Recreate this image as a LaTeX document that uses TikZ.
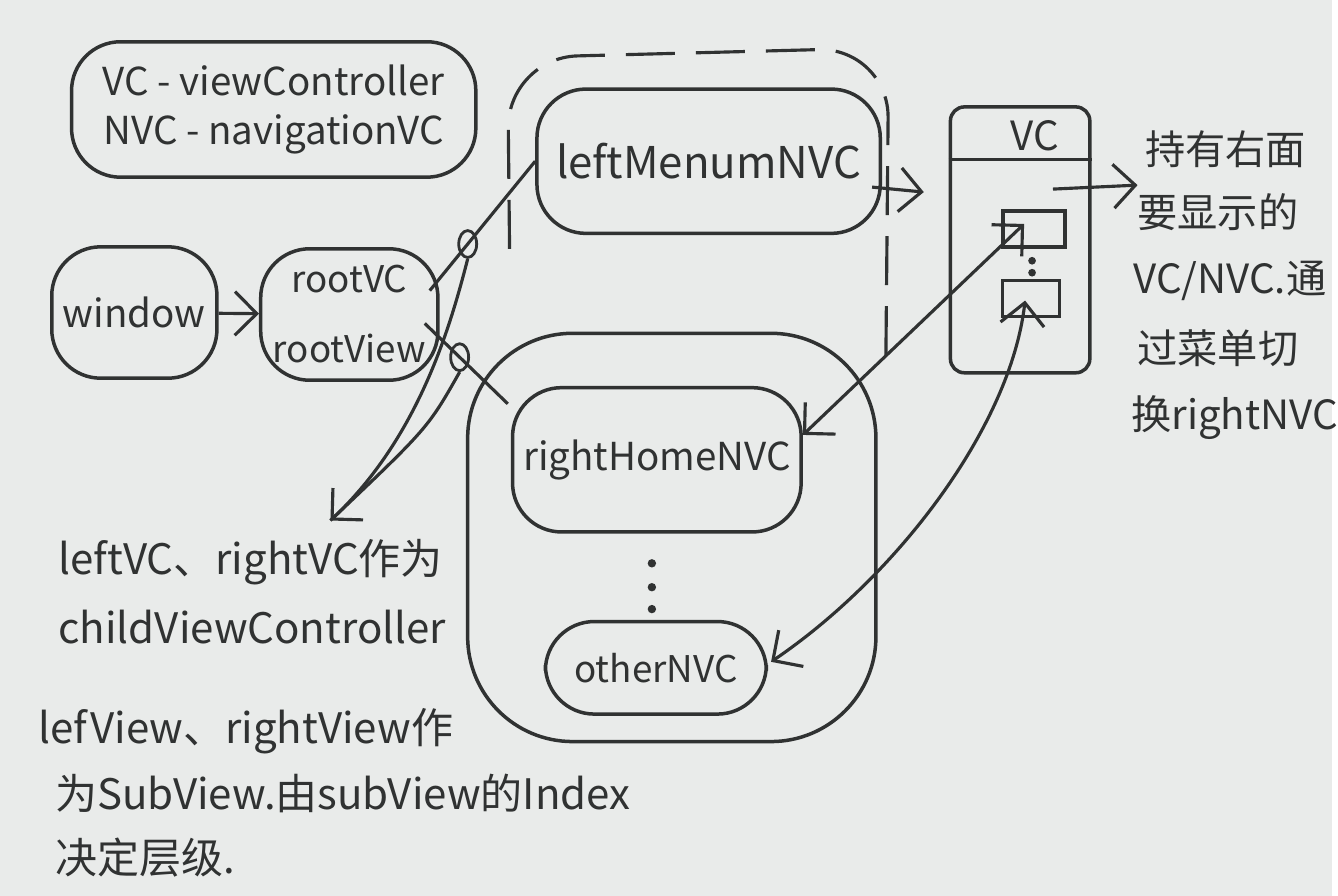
\documentclass[tikz,border=0pt]{standalone}
\usepackage{fontspec}
\setmainfont{Noto Sans CJK SC}
\usetikzlibrary{arrows.meta,shapes.geometric}
\definecolor{paper}{RGB}{233,235,234}
\definecolor{ink}{RGB}{48,50,50}
\begin{document}
\begin{tikzpicture}
[x=0.01cm,y=-0.01cm,
  boxdecorate/.style={draw=ink,text=ink,line width=1pt,rounded corners=14pt,inner sep=2pt},
  slotdecorate/.style={draw=ink,line width=1pt,inner sep=0pt},
  hookdecorate/.style={shape=ellipse,draw=ink,line width=0.8pt,inner sep=0pt,
    minimum width=0.18cm,minimum height=0.27cm},
  textdecorate/.style={text=ink,inner sep=0pt,font=\fontsize{11.5}{14}\selectfont},
  linedecorate/.style={draw=ink,line width=0.9pt},
  arrowdecorate/.style={linedecorate,-{Straight Barb[length=2.2mm,width=4.4mm]}},
  bothdecorate/.style={linedecorate,
    {Straight Barb[length=2.2mm,width=4.4mm]}-{Straight Barb[length=2.2mm,width=4.4mm]}}]
%% paper
\fill[paper] (0,0) rectangle (1338,900);
%% legend
\node (legend) at (275,110) [boxdecorate,minimum width=4.06cm,minimum height=1.36cm,
  align=center,font=\fontsize{11}{14}\selectfont] {VC - viewController\\NVC - navigationVC};
%% controller boxes
\foreach \nodename/\x/\y/\w/\h/\fs/\boxtext in {window/135/314/166/132/11/window,
  leftnvc/712/162/345/145/12.5/leftMenumNVC, righthome/660/462/290/145/11/rightHomeNVC,
  other/659/671/222/93/10.5/otherNVC} {
  \node (\nodename) at (\x,\y) [boxdecorate,minimum width=\w*0.01cm,
    minimum height=\h*0.01cm,font=\fontsize{\fs}{\fs}\selectfont] {\boxtext};
}
\node (rootvc) at (351,316) [boxdecorate,minimum width=1.78cm,minimum height=1.32cm,
  align=center,font=\fontsize{10.5}{20}\selectfont] {rootVC\\rootView};
%% containers
\node (rightbox) at (675,540) [boxdecorate,rounded corners=30pt,minimum width=4.1cm,
  minimum height=4.1cm] {};
\draw[linedecorate,dash pattern=on 14pt off 6pt,rounded corners=20pt]
  (512,250) -- (510,58) -- (893,48) -- (890,372);
%% VC box
\node (vcbox) at (1025,241) [boxdecorate,rounded corners=4pt,minimum width=1.4cm,
  minimum height=2.67cm] {};
\draw[linedecorate] (vcbox.west |- 0,160) -- (vcbox.east |- 0,160);
\node (vclabel) at (1040,136) [textdecorate,font=\fontsize{11.5}{12}\selectfont] {VC};
\node (slotup) at (1039,230) [slotdecorate,minimum width=0.62cm,minimum height=0.36cm] {};
\node (slotdown) at (1036,300) [slotdecorate,minimum width=0.57cm,minimum height=0.36cm] {};
\foreach \y in {262,274} \fill[ink] (1037,\y) circle (1.1pt);
\foreach \y in {566,590,612} \fill[ink] (655,\y) circle (1.2pt);
%% notes
\foreach \i/\x/\y/\notetext in {1/1150/150/持有右面, 2/1142/213/要显示的,
  3/1138/282/{VC/NVC.通}, 4/1142/350/过菜单切, 5/1136/420/换rightNVC} {
  \node (menunote\i) at (\x,\y) [textdecorate,anchor=west] {\notetext};
}
\foreach \i/\x/\y/\notetext in {1/58/565/leftVC、rightVC作为, 2/58/630/childViewController,
  3/38/735/lefView、rightView作, 4/55/797/为SubView.由subView的Index, 5/55/862/决定层级.} {
  \node (layernote\i) at (\x,\y) [textdecorate,anchor=west,font=\fontsize{12}{14}\selectfont] {\notetext};
}
%% connectors
\coordinate (notetip) at (1143,186);
\coordinate (childtip) at (332,523);
\draw[arrowdecorate] (window) -- (rootvc);
\draw[arrowdecorate] ([shift={(-10,26)}]leftnvc.east) -- ([shift={(-25,-48)}]vcbox.west);
\draw[arrowdecorate] ([shift={(33,-51)}]vcbox.center) -- (notetip);
\draw[linedecorate] ([shift={(-10,-24)}]rootvc.east) -- node[pos=0.36,hookdecorate] (hookleft) {}
  (leftnvc.west);
\draw[linedecorate] ([shift={(-15,9)}]rootvc.east) -- node[pos=0.42,hookdecorate] (hookright) {}
  ([shift={(-3,18)}]righthome.north west);
\draw[arrowdecorate] (hookleft.south) .. controls (452,330) and (420,440) .. (childtip);
\draw[linedecorate] (hookright.south) .. controls (430,430) .. (childtip);
\draw[bothdecorate] ([shift={(-10,-5)}]slotup.center) -- ([shift={(0,-25)}]righthome.east);
\draw[bothdecorate] ([shift={(-6,2)}]slotdown.center) .. controls (1015,430) and (900,580)
  .. ([shift={(3,-6)}]other.east);
\end{tikzpicture}
\end{document}
